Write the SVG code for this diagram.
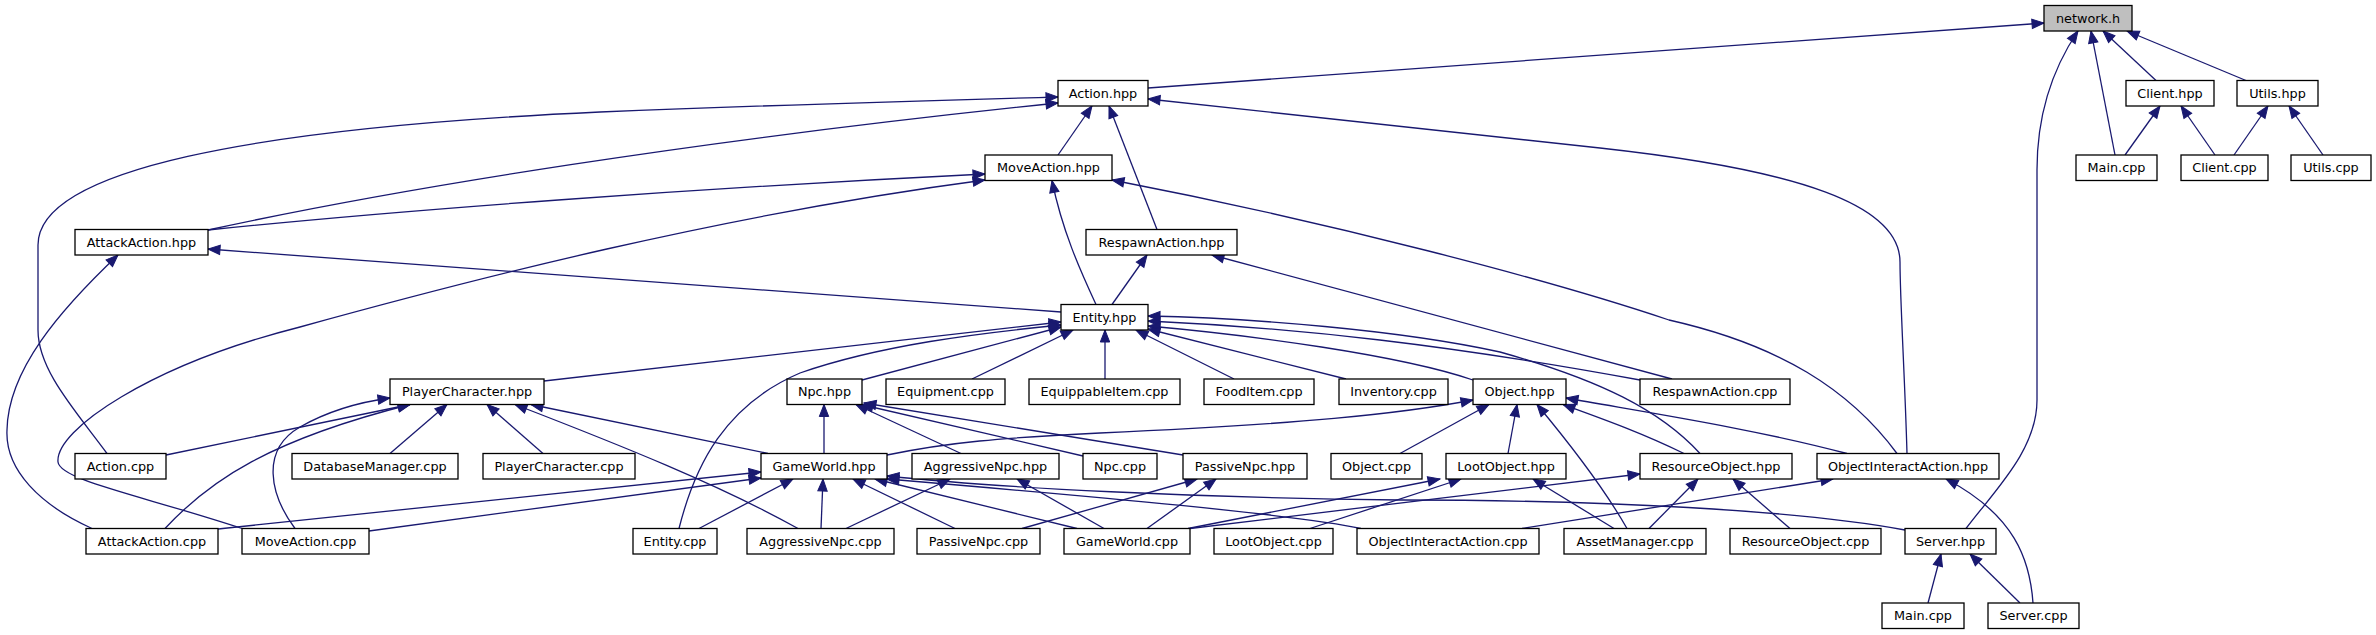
<svg xmlns="http://www.w3.org/2000/svg" width="2376" height="635" viewBox="0 0 2376 635">
<style>
.n rect{fill:#fff;stroke:#000;stroke-width:1.3}
.n.g rect{fill:#bfbfbf}
.n text{font-family:"DejaVu Sans","Liberation Sans",sans-serif;font-size:12.8px;text-anchor:middle;fill:#000}
#edges path{fill:none;stroke:#191970;stroke-width:1.3;marker-end:url(#arr)}
</style>
<defs>
<marker id="arr" markerUnits="userSpaceOnUse" markerWidth="14" markerHeight="12" refX="12" refY="5" orient="auto" overflow="visible">
<path d="M0,0.3 L12,5 L0,9.7 Z" fill="#191970" stroke="#191970" stroke-width="1"/>
</marker>
</defs>
<rect width="2376" height="635" fill="#fff"/>
<g id="edges">
<path d="M1148,88 L2044,23"/>
<path d="M2115,155 L2091,31"/>
<path d="M2156,80.5 L2103,31"/>
<path d="M2246,80.5 L2127,31"/>
<path d="M1966,528.5 C1995,490 2037,450 2037,400 L2037,170 C2037,110 2055,65 2078,31"/>
<path d="M2125,155 L2160,106"/>
<path d="M2215,155 L2181,106"/>
<path d="M2234,155 L2268,106"/>
<path d="M2323,155 L2289,106"/>
<path d="M1058,155 L1092,106"/>
<path d="M1157,229.5 L1109,106"/>
<path d="M1907,453.5 C1905,380 1900,300 1900,262 C1900,205 1800,170 1600,148 C1420,128 1270,111 1148,99"/>
<path d="M1897,453.5 C1850,390 1780,345 1669,320 C1550,280 1330,222 1112,180"/>
<path d="M107,453.5 C75,410 38,370 38,330 L38,245 C38,170 250,128 600,112 C800,104 950,100 1058,97"/>
<path d="M208,230 C400,188 700,140 1058,103"/>
<path d="M208,230 C400,210 700,188 985,174"/>
<path d="M242,528.5 C140,495 60,480 58,462 C55,430 150,365 300,327 C470,280 720,215 985,180"/>
<path d="M1096,304.5 C1080,270 1062,230 1052,180.5"/>
<path d="M1112,304.5 L1147,255"/>
<path d="M1061,312 L208,249"/>
<path d="M1672,379 L1212,255"/>
<path d="M1640,380 C1450,345 1300,328 1148,321"/>
<path d="M1473,380 C1400,355 1250,335 1148,326"/>
<path d="M1346,379 L1148,329"/>
<path d="M1234,379 L1136,330"/>
<path d="M1105,379 L1105,330"/>
<path d="M972,379 L1073,330"/>
<path d="M862,380 L1061,327"/>
<path d="M544,381 L1061,322"/>
<path d="M679,528.5 C695,465 725,405 800,373 C880,345 980,333 1061,325"/>
<path d="M1700,453.5 C1660,410 1600,380 1500,352 C1400,330 1250,318 1148,316"/>
<path d="M295,528.5 C270,495 260,450 300,427 C330,410 360,402 390,398"/>
<path d="M166,455 L410,404.5"/>
<path d="M165,528.5 C210,480 270,440 410,404.5"/>
<path d="M390,453.5 L447,404.5"/>
<path d="M543,453.5 L487,404.5"/>
<path d="M798,528.5 C720,485 620,445 515,404.5"/>
<path d="M768,453.5 L531,404.5"/>
<path d="M218,529 L761,472"/>
<path d="M369,531 L761,478"/>
<path d="M699,528.5 L793,479"/>
<path d="M821,528.5 L823,479"/>
<path d="M955,528.5 L853,479"/>
<path d="M1077,528.5 L875,479"/>
<path d="M1361,528.5 C1300,515 1100,497 887,479"/>
<path d="M1905,530 C1800,510 1600,500 1400,500 C1200,498 1000,488 887,476"/>
<path d="M824,453.5 L824,404.5"/>
<path d="M961,453.5 L856,404.5"/>
<path d="M1083,456 L861,404.5"/>
<path d="M1183,455 L864,403"/>
<path d="M887,455 C950,442 1000,438 1100,433 C1300,424 1400,414 1473,400"/>
<path d="M1400,453.5 L1489,404.5"/>
<path d="M1508,453.5 L1517,404.5"/>
<path d="M1627,528.5 C1605,490 1575,450 1537,404.5"/>
<path d="M1684,453.5 C1640,432 1600,418 1563,404.5"/>
<path d="M1847,453.5 C1750,428 1650,413 1566,398"/>
<path d="M846,528.5 L950,479"/>
<path d="M1104,528.5 L1017,479"/>
<path d="M1022,528.5 L1197,479"/>
<path d="M1147,528.5 L1216,479"/>
<path d="M1188,528.5 L1440,479"/>
<path d="M1310,528.5 L1461,479"/>
<path d="M1614,528.5 L1533,479"/>
<path d="M1649,528.5 L1698,479"/>
<path d="M1790,528.5 L1733,479"/>
<path d="M1190,528.5 L1640,474"/>
<path d="M1522,528.5 L1833,479"/>
<path d="M2033,603 C2030,560 2015,515 1946,479"/>
<path d="M1928,603 L1941,554"/>
<path d="M2020,603 L1970,554"/>
<path d="M92,528.5 C40,505 5,470 7,430 C8,370 60,310 118,255"/>
</g>
<g id="n_network_h" class="n g"><rect x="2044" y="5.5" width="88" height="25.5"/><text x="2088" y="22.8">network.h</text></g>
<g id="n_action_hpp" class="n"><rect x="1058" y="80.5" width="90" height="25.5"/><text x="1103" y="97.8">Action.hpp</text></g>
<g id="n_client_hpp" class="n"><rect x="2126" y="80.5" width="88" height="25.5"/><text x="2170" y="97.8">Client.hpp</text></g>
<g id="n_utils_hpp" class="n"><rect x="2237" y="80.5" width="81" height="25.5"/><text x="2277.5" y="97.8">Utils.hpp</text></g>
<g id="n_moveaction_hpp" class="n"><rect x="985" y="155" width="127" height="25.5"/><text x="1048.5" y="172.3">MoveAction.hpp</text></g>
<g id="n_main_cpp_1" class="n"><rect x="2076" y="155" width="81" height="25.5"/><text x="2116.5" y="172.3">Main.cpp</text></g>
<g id="n_client_cpp" class="n"><rect x="2181" y="155" width="87" height="25.5"/><text x="2224.5" y="172.3">Client.cpp</text></g>
<g id="n_utils_cpp" class="n"><rect x="2291" y="155" width="80" height="25.5"/><text x="2331" y="172.3">Utils.cpp</text></g>
<g id="n_attackaction_hpp" class="n"><rect x="75" y="229.5" width="133" height="25.5"/><text x="141.5" y="246.8">AttackAction.hpp</text></g>
<g id="n_respawnaction_hpp" class="n"><rect x="1086" y="229.5" width="151" height="25.5"/><text x="1161.5" y="246.8">RespawnAction.hpp</text></g>
<g id="n_entity_hpp" class="n"><rect x="1061" y="304.5" width="87" height="25.5"/><text x="1104.5" y="321.8">Entity.hpp</text></g>
<g id="n_playercharacter_hpp" class="n"><rect x="390" y="379" width="154" height="25.5"/><text x="467" y="396.3">PlayerCharacter.hpp</text></g>
<g id="n_npc_hpp" class="n"><rect x="787" y="379" width="75" height="25.5"/><text x="824.5" y="396.3">Npc.hpp</text></g>
<g id="n_equipment_cpp" class="n"><rect x="886" y="379" width="119" height="25.5"/><text x="945.5" y="396.3">Equipment.cpp</text></g>
<g id="n_equippableitem_cpp" class="n"><rect x="1029" y="379" width="151" height="25.5"/><text x="1104.5" y="396.3">EquippableItem.cpp</text></g>
<g id="n_fooditem_cpp" class="n"><rect x="1204" y="379" width="110" height="25.5"/><text x="1259" y="396.3">FoodItem.cpp</text></g>
<g id="n_inventory_cpp" class="n"><rect x="1339" y="379" width="109" height="25.5"/><text x="1393.5" y="396.3">Inventory.cpp</text></g>
<g id="n_object_hpp" class="n"><rect x="1473" y="379" width="93" height="25.5"/><text x="1519.5" y="396.3">Object.hpp</text></g>
<g id="n_respawnaction_cpp" class="n"><rect x="1640" y="379" width="150" height="25.5"/><text x="1715" y="396.3">RespawnAction.cpp</text></g>
<g id="n_action_cpp" class="n"><rect x="75" y="453.5" width="91" height="25.5"/><text x="120.5" y="470.8">Action.cpp</text></g>
<g id="n_databasemanager_cpp" class="n"><rect x="292" y="453.5" width="166" height="25.5"/><text x="375" y="470.8">DatabaseManager.cpp</text></g>
<g id="n_playercharacter_cpp" class="n"><rect x="483" y="453.5" width="152" height="25.5"/><text x="559" y="470.8">PlayerCharacter.cpp</text></g>
<g id="n_gameworld_hpp" class="n"><rect x="761" y="453.5" width="126" height="25.5"/><text x="824" y="470.8">GameWorld.hpp</text></g>
<g id="n_aggressivenpc_hpp" class="n"><rect x="912" y="453.5" width="147" height="25.5"/><text x="985.5" y="470.8">AggressiveNpc.hpp</text></g>
<g id="n_npc_cpp" class="n"><rect x="1083" y="453.5" width="74" height="25.5"/><text x="1120" y="470.8">Npc.cpp</text></g>
<g id="n_passivenpc_hpp" class="n"><rect x="1183" y="453.5" width="124" height="25.5"/><text x="1245" y="470.8">PassiveNpc.hpp</text></g>
<g id="n_object_cpp" class="n"><rect x="1331" y="453.5" width="91" height="25.5"/><text x="1376.5" y="470.8">Object.cpp</text></g>
<g id="n_lootobject_hpp" class="n"><rect x="1446" y="453.5" width="120" height="25.5"/><text x="1506" y="470.8">LootObject.hpp</text></g>
<g id="n_resourceobject_hpp" class="n"><rect x="1640" y="453.5" width="152" height="25.5"/><text x="1716" y="470.8">ResourceObject.hpp</text></g>
<g id="n_objectinteractaction_hpp" class="n"><rect x="1817" y="453.5" width="182" height="25.5"/><text x="1908" y="470.8">ObjectInteractAction.hpp</text></g>
<g id="n_attackaction_cpp" class="n"><rect x="86" y="528.5" width="132" height="25.5"/><text x="152" y="545.8">AttackAction.cpp</text></g>
<g id="n_moveaction_cpp" class="n"><rect x="242" y="528.5" width="127" height="25.5"/><text x="305.5" y="545.8">MoveAction.cpp</text></g>
<g id="n_entity_cpp" class="n"><rect x="633" y="528.5" width="84" height="25.5"/><text x="675" y="545.8">Entity.cpp</text></g>
<g id="n_aggressivenpc_cpp" class="n"><rect x="747" y="528.5" width="147" height="25.5"/><text x="820.5" y="545.8">AggressiveNpc.cpp</text></g>
<g id="n_passivenpc_cpp" class="n"><rect x="917" y="528.5" width="123" height="25.5"/><text x="978.5" y="545.8">PassiveNpc.cpp</text></g>
<g id="n_gameworld_cpp" class="n"><rect x="1064" y="528.5" width="126" height="25.5"/><text x="1127" y="545.8">GameWorld.cpp</text></g>
<g id="n_lootobject_cpp" class="n"><rect x="1214" y="528.5" width="119" height="25.5"/><text x="1273.5" y="545.8">LootObject.cpp</text></g>
<g id="n_objectinteractaction_cpp" class="n"><rect x="1357" y="528.5" width="182" height="25.5"/><text x="1448" y="545.8">ObjectInteractAction.cpp</text></g>
<g id="n_assetmanager_cpp" class="n"><rect x="1564" y="528.5" width="142" height="25.5"/><text x="1635" y="545.8">AssetManager.cpp</text></g>
<g id="n_resourceobject_cpp" class="n"><rect x="1730" y="528.5" width="151" height="25.5"/><text x="1805.5" y="545.8">ResourceObject.cpp</text></g>
<g id="n_server_hpp" class="n"><rect x="1905" y="528.5" width="91" height="25.5"/><text x="1950.5" y="545.8">Server.hpp</text></g>
<g id="n_main_cpp_2" class="n"><rect x="1882" y="603" width="82" height="25.5"/><text x="1923" y="620.3">Main.cpp</text></g>
<g id="n_server_cpp" class="n"><rect x="1988" y="603" width="91" height="25.5"/><text x="2033.5" y="620.3">Server.cpp</text></g>
</svg>
